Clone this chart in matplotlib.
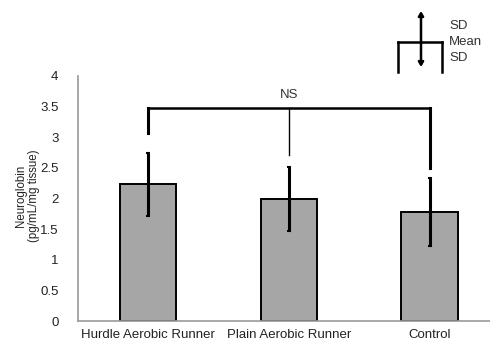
import matplotlib
matplotlib.use("Agg")
import matplotlib.pyplot as plt
from matplotlib.lines import Line2D
from matplotlib.patches import FancyArrowPatch

plt.rcParams['font.family'] = ['Liberation Sans', 'DejaVu Sans']

categories = ["Hurdle Aerobic Runner", "Plain Aerobic Runner", "Control"]
means = [2.23, 1.99, 1.78]
sds = [0.52, 0.52, 0.55]
yticks = [0, 0.5, 1, 1.5, 2, 2.5, 3, 3.5, 4]
ytick_labels = ["0", "0.5", "1", "1.5", "2", "2.5", "3", "3.5", "4"]
bracket_top = 3.48
bracket_ends = [3.07, 2.71, 2.49]
sig_label = "NS"

W, H = 490, 347
fig = plt.figure(figsize=(W / 100, H / 100), dpi=100)
ax = fig.add_axes([78 / W, (H - 321) / H, 1 - 78 / W, (321 - 76) / H])

x = list(range(len(categories)))
ax.bar(x, means, width=0.4, color="#a6a6a6", edgecolor="black", linewidth=1.4, zorder=2)
ax.errorbar(x, means, yerr=sds, fmt="none", ecolor="black", elinewidth=2.2,
            capsize=1.5, capthick=1.5, zorder=3)

# significance bracket
ax.plot([x[0], x[-1]], [bracket_top, bracket_top], color="black", lw=1.8, solid_capstyle="projecting")
lws = [2.2, 1.0, 2.2]
for xi, yb, lw in zip(x, bracket_ends, lws):
    ax.plot([xi, xi], [yb, bracket_top], color="black", lw=lw)
ax.text(x[1], bracket_top + 0.12, sig_label, ha="center", va="bottom", fontsize=9.5, color="#333333")

ax.set_xlim(-0.5, 2.43)
ax.set_ylim(0, 4)
ax.set_yticks(yticks)
ax.set_yticklabels(ytick_labels, fontsize=9.5, color="#222222")
ax.set_xticks(x)
ax.set_xticklabels(categories, fontsize=9.5, color="#222222")
ax.tick_params(length=0)
ax.tick_params(axis="y", pad=14)
ax.tick_params(axis="x", pad=6)
for s in ["top", "right"]:
    ax.spines[s].set_visible(False)
for s in ["left", "bottom"]:
    ax.spines[s].set_color("#999999")
    ax.spines[s].set_linewidth(1.2)
ax.set_ylabel("Neuroglobin\n(pg/mL/mg tissue)", fontsize=8.3, color="#222222",
              linespacing=1.15)
ax.yaxis.set_label_coords(-0.092, 0.51)

# legend glyph (figure pixel coords)
def fx(px):
    return px / W

def fy(py):
    return 1 - py / H

fig.add_artist(FancyArrowPatch((fx(421), fy(67)), (fx(421), fy(11)), transform=fig.transFigure,
                               arrowstyle="<|-|>,head_length=2.5,head_width=1.5", color="black",
                               lw=1.8, shrinkA=0, shrinkB=0))
fig.add_artist(Line2D([fx(398), fx(442)], [fy(42), fy(42)], transform=fig.transFigure,
                      color="black", lw=1.8))
for px in (398, 442):
    fig.add_artist(Line2D([fx(px), fx(px)], [fy(42), fy(72)], transform=fig.transFigure,
                          color="black", lw=1.8))
for txt, py in (("SD", 26), ("Mean", 42), ("SD", 58)):
    fig.text(fx(449), fy(py), txt, ha="left", va="center", fontsize=9.5, color="#333333")

fig.savefig("out.png", dpi=100)
